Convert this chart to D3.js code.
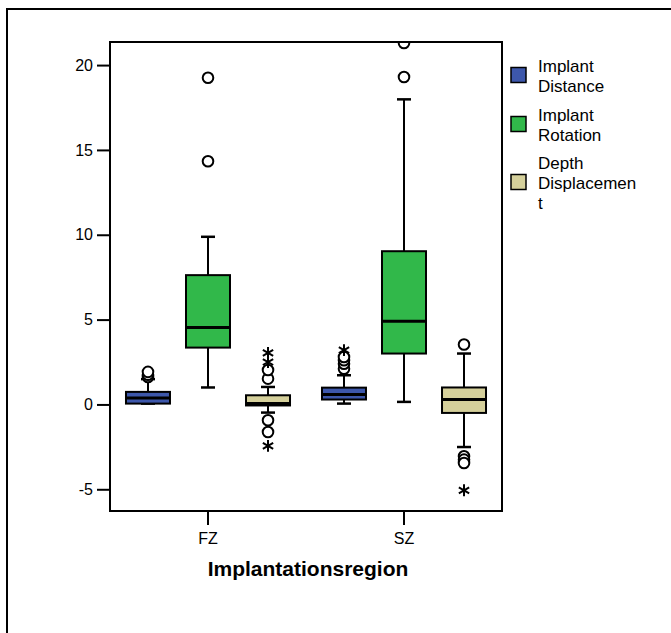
<!DOCTYPE html>
<html>
<head>
<meta charset="utf-8">
<script src="https://cdn.jsdelivr.net/npm/d3@7"></script>
<style>
  body { margin: 0; background: #fff; }
  text { font-family: "Liberation Sans", Arial, sans-serif; }
</style>
</head>
<body>
<div id="chart"></div>
<script>
// regions and series
const regions = ["FZ", "SZ"]
const series = ["Implant Distance", "Implant Rotation", "Depth Displacement"]
const legendLines = [["Implant", "Distance"], ["Implant", "Rotation"], ["Depth", "Displacemen", "t"]]
const colors = ["#3d57ab", "#31b84a", "#d5d09b"]
const yTicks = [-5, 0, 5, 10, 15, 20]

// box stats: [lowWhisker, q1, median, q3, highWhisker]
const statsFZ = [
  [0.05, 0.05, 0.38, 0.74, 1.49],
  [1.0, 3.35, 4.53, 7.62, 9.88],
  [-0.48, -0.06, 0.05, 0.54, 1.03]
]
const statsSZ = [
  [0.05, 0.29, 0.58, 0.99, 1.72],
  [0.15, 3.0, 4.91, 9.03, 17.98],
  [-2.51, -0.5, 0.29, 1.0, 3.0]
]
// outliers (circles) and extremes (asterisks)
const outFZ = [[1.62, 1.75, 1.92], [14.33, 19.25], [1.52, 2.03, -0.93, -1.62]]
const extFZ = [[], [], [2.5, 3.04, -2.44]]
const outSZ = [[2.1, 2.4, 2.6, 2.8], [19.3, 21.3], [3.53, -3.05, -3.25, -3.45]]
const extSZ = [[3.2], [], [-5.06]]

const stats = [statsFZ, statsSZ], outs = [outFZ, outSZ], exts = [extFZ, extSZ]

const W = 671, H = 633
const mLeft = 110, mRight = 502, mTop = 42, mBottom = 511

const svg = d3.select("#chart").append("svg").attr("width", W).attr("height", H)

// outer frame, runs off the page
svg.append("rect").attr("x", 7).attr("y", 9).attr("width", 700).attr("height", 700)
  .attr("fill", "none").attr("stroke", "#000").attr("stroke-width", 2)

const y = d3.scaleLinear().domain([-6.28, 21.36]).range([mBottom, mTop])
const x = d3.scaleBand().domain(regions).range([mLeft, mRight])
const xs = d3.scalePoint().domain(series).range([0, x.bandwidth()]).padding(0.633)
const bw = 44, cap = 7

svg.append("clipPath").attr("id", "plotclip").append("rect")
  .attr("x", mLeft).attr("y", mTop).attr("width", mRight - mLeft).attr("height", mBottom - mTop)

const plot = svg.append("g").attr("clip-path", "url(#plotclip)")

regions.forEach(function(reg, ri) {
  series.forEach(function(s, si) {
    const cx = x(reg) + xs(s)
    const [lo, q1, med, q3, hi] = stats[ri][si]
    const g = plot.append("g")
    // whiskers
    g.append("line").attr("x1", cx).attr("x2", cx).attr("y1", y(hi)).attr("y2", y(q3))
      .attr("stroke", "#000").attr("stroke-width", 2)
    g.append("line").attr("x1", cx).attr("x2", cx).attr("y1", y(q1)).attr("y2", y(lo))
      .attr("stroke", "#000").attr("stroke-width", 2)
    g.selectAll("line.cap").data([lo, hi]).enter().append("line")
      .attr("x1", cx - cap).attr("x2", cx + cap).attr("y1", d => y(d)).attr("y2", d => y(d))
      .attr("stroke", "#000").attr("stroke-width", 2.5)
    // box
    g.append("rect").attr("x", cx - bw / 2).attr("width", bw)
      .attr("y", y(q3)).attr("height", y(q1) - y(q3))
      .attr("fill", colors[si]).attr("stroke", "#000").attr("stroke-width", 2)
    g.append("line").attr("x1", cx - bw / 2).attr("x2", cx + bw / 2)
      .attr("y1", y(med)).attr("y2", y(med)).attr("stroke", "#000").attr("stroke-width", 3)
    // outliers
    g.selectAll("circle").data(outs[ri][si]).enter().append("circle")
      .attr("cx", cx).attr("cy", d => y(d)).attr("r", 5.3)
      .attr("fill", "#fff").attr("stroke", "#000").attr("stroke-width", 2)
    g.selectAll("path.ext").data(exts[ri][si]).enter().append("path")
      .attr("d", d3.symbol(d3.symbolAsterisk, 100))
      .attr("transform", d => "translate(" + cx + "," + y(d) + ")")
      .attr("fill", "none").attr("stroke", "#000").attr("stroke-width", 2)
  })
})

// frame
svg.append("rect").attr("x", mLeft).attr("y", mTop).attr("width", mRight - mLeft).attr("height", mBottom - mTop)
  .attr("fill", "none").attr("stroke", "#000").attr("stroke-width", 2)

// axes
const yAxis = svg.append("g").attr("transform", "translate(" + mLeft + ",0)")
  .call(d3.axisLeft(y).tickValues(yTicks).tickSize(13).tickPadding(4).tickFormat(d => String(d)))
yAxis.select(".domain").remove()
yAxis.selectAll("line").attr("stroke", "#000").attr("stroke-width", 2)
yAxis.selectAll("text").attr("font-size", 16).attr("fill", "#000")
  .attr("font-family", "'Liberation Sans', Arial, sans-serif")

const xAxis = svg.append("g").attr("transform", "translate(0," + mBottom + ")")
  .call(d3.axisBottom(x).tickSize(14).tickPadding(8))
xAxis.select(".domain").remove()
xAxis.selectAll("line").attr("stroke", "#000").attr("stroke-width", 2)
xAxis.selectAll("text").attr("font-size", 16).attr("fill", "#000")
  .attr("font-family", "'Liberation Sans', Arial, sans-serif")

svg.append("text").attr("x", (mLeft + mRight) / 2 + 2).attr("y", 576)
  .attr("text-anchor", "middle").attr("font-size", 21).attr("font-weight", "bold")
  .text("Implantationsregion")

// legend
const legendY = [75, 124, 182]
const lg = svg.append("g")
series.forEach(function(s, i) {
  lg.append("rect").attr("x", 511).attr("y", legendY[i] - 7.5).attr("width", 15).attr("height", 15)
    .attr("fill", colors[i]).attr("stroke", "#000").attr("stroke-width", 1.5)
  const lines = legendLines[i]
  const t = lg.append("text").attr("font-size", 17).attr("fill", "#000")
  lines.forEach(function(l, j) {
    t.append("tspan").attr("x", 538)
      .attr("y", legendY[i] + (j - (lines.length - 1) / 2) * 20 + 6.5)
      .text(l)
  })
})
</script>
</body>
</html>
